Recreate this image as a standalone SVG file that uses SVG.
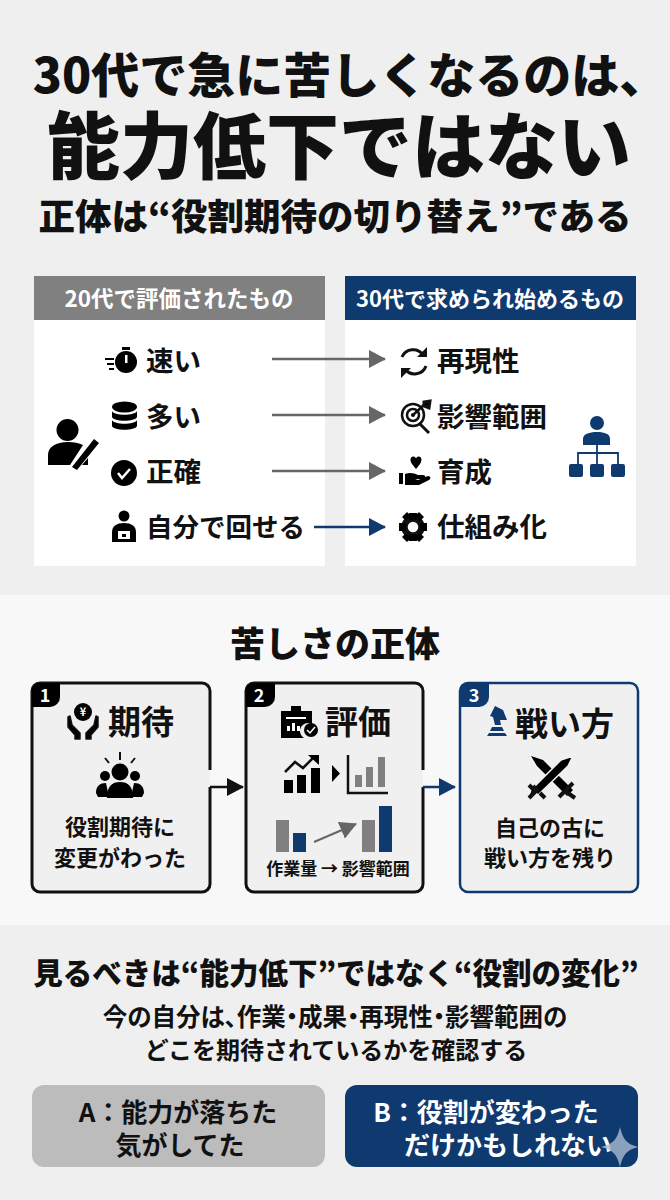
<svg xmlns="http://www.w3.org/2000/svg" width="670" height="1200" viewBox="0 0 670 1200">
<style>
text{font-family:"Noto Sans CJK JP","Noto Sans",sans-serif;font-weight:700;fill:#111;dominant-baseline:central}
.m{text-anchor:middle}
.w{fill:#fff}
.k{fill:#111}
.n{fill:#0f3a70}
.g{fill:#808080}
.box{fill:#f0f0f0;stroke:#111;stroke-width:3}
.it{font-size:27.500px}
.cap{font-size:22px}
.hd{font-size:33px}
.ln{fill:none;stroke-width:2.5}
.p{font-feature-settings:"palt"}
</style>
<defs>
<marker id="ag" markerUnits="userSpaceOnUse" markerWidth="17" markerHeight="18" refX="16" refY="9" orient="auto"><path d="M0 0L17 9L0 18z" fill="#666"/></marker>
<marker id="an" markerUnits="userSpaceOnUse" markerWidth="17" markerHeight="18" refX="16" refY="9" orient="auto"><path d="M0 0L17 9L0 18z" fill="#0f3a70"/></marker>
<marker id="ak" markerUnits="userSpaceOnUse" markerWidth="17" markerHeight="18" refX="16" refY="9" orient="auto"><path d="M0 0L17 9L0 18z" fill="#111"/></marker>
</defs>
<rect width="670" height="1200" fill="#efefef"/>
<rect y="595" width="670" height="330" fill="#f8f8f8"/>
<g id="title">
<text class="m" x="350" y="72" font-size="48" style="font-weight:900">30代で急に苦しくなるのは、</text>
<text class="m" x="339" y="141" font-size="73" style="font-weight:900">能力低下ではない</text>
<text class="m" x="335" y="214" font-size="36.500" style="font-weight:900">正体は“役割期待の切り替え”である</text>
</g>
<g id="panel-20s">
<rect x="34" y="276" width="291" height="290" fill="#fff"/>
<rect x="34" y="276" width="291" height="44" class="g"/>
<text class="m w" x="179" y="297" font-size="22.500">20代で評価されたもの</text>
<g id="i-person"><circle cx="67.500" cy="430" r="11"/><path d="M48 465V455C48 447 56 442 68 442C74 442 79 443 83 445L70 465zM82 465L88 458V465z"/><path d="M72 467L94 439L99 443L77 470z"/></g>
<g id="i-timer"><circle cx="126" cy="362" r="11"/><path d="M122 347H130V350H122zM105 358H114V360H105zM107 363H114V365H107zM109 368H114V370H109z"/><rect x="125" y="355" width="2.500" height="8" fill="#fff"/></g>
<text class="it" x="146" y="359">速い</text>
<g id="i-db"><ellipse cx="124.500" cy="407" rx="12.500" ry="5.500"/><path d="M112 411C114 416 135 416 137 411V417C135 422 114 422 112 417zM112 420C114 425 135 425 137 420V426C135 431 114 431 112 426z"/></g>
<text class="it" x="146" y="415">多い</text>
<g id="i-check"><circle cx="124" cy="473" r="13"/><path d="M118 473L122 478L130 469" fill="none" stroke="#fff" stroke-width="2.500"/></g>
<text class="it" x="146" y="470">正確</text>
<g id="i-laptop"><circle cx="124" cy="516" r="5.500"/><path d="M112 542V532C112 526 117 523 124 523C131 523 136 526 136 532V542z"/><rect x="118" y="531" width="12" height="8" fill="#fff"/><rect x="122" y="534" width="4" height="3"/></g>
<text x="146" y="525" font-size="26.500">自分で回せる</text>
</g>
<g id="panel-30s">
<rect x="345" y="276" width="291" height="290" fill="#fff"/>
<rect x="345" y="276" width="291" height="44" class="n"/>
<text class="m w" x="490" y="297" font-size="22">30代で求められ始めるもの</text>
<g id="i-cycle" fill="none" stroke="#111" stroke-width="3"><path d="M402 357A12 12 0 0 1 423 355"/><path d="M426 366A12 12 0 0 1 405 369"/><path d="M427 347V357H417zM401 378V368H411z" fill="#111" stroke="none"/></g>
<text class="it" x="437" y="359">再現性</text>
<g id="i-target"><circle cx="413" cy="415" r="11" fill="none" stroke="#111" stroke-width="2.500"/><circle cx="413" cy="415" r="6" fill="none" stroke="#111" stroke-width="2.500"/><circle cx="413" cy="415" r="2"/><path d="M413 415L427 402" stroke="#111" stroke-width="2.500"/><path d="M424 402L430 401L429 408L424 406zM419 423L429 433" stroke="#111" stroke-width="3"/></g>
<text class="it" x="437" y="415">影響範囲</text>
<g id="i-care"><path d="M412 464C408 458 413 454 416 458C419 454 424 458 420 464L416 469z"/><rect x="399" y="473" width="4" height="11"/><path d="M405 474C410 472 414 473 418 475H423C426 475 426 478 423 479H415L418 480L428 476C431 476 431 479 429 480L419 485H405z"/></g>
<text class="it" x="437" y="470">育成</text>
<g id="i-gear"><circle cx="413" cy="527" r="8.500" fill="none" stroke="#111" stroke-width="6.500"/><path d="M409 513H417V520H409zM409 534H417V541H409zM399 523H406V531H399zM420 523H427V531H420z"/><path d="M402 517L407 512L411 516L406 521zM424 517L419 512L415 516L420 521zM402 537L407 542L411 538L406 533zM424 537L419 542L415 538L420 533z"/></g>
<text class="it" x="437" y="525">仕組み化</text>
<g id="i-org" fill="#0f3a70"><circle cx="597" cy="423" r="7"/><path d="M583 445V439C583 434 589 432 597 432C605 432 610 434 610 439V445z"/><path d="M597 445V464M578 464V453H618V464" fill="none" stroke="#0f3a70" stroke-width="1.800"/><rect x="569" y="464" width="14" height="13" rx="2"/><rect x="590" y="464" width="14" height="13" rx="2"/><rect x="611" y="464" width="14" height="13" rx="2"/></g>
</g>
<g id="s2-title"><text class="m" x="335" y="641" font-size="35" style="font-weight:900">苦しさの正体</text></g>
<g id="card1">
<path class="box" d="M210 770V691A8 8 0 0 0 202 683H40A8 8 0 0 0 32 691V884A8 8 0 0 0 40 892H202A8 8 0 0 0 210 884V787"/>
<path d="M32 707V691A8 8 0 0 1 40 683H60V697A10 10 0 0 1 50 707z"/>
<text class="m w" x="45" y="694" font-size="18">1</text>
<g id="i-yen"><circle cx="83" cy="712" r="9"/><text class="m w" x="83" y="711" font-size="11">¥</text><path d="M68 717L70 716L72 725L80 733V739H75V735L68 727zM98 717L96 716L94 725L86 733V739H91V735L98 727z" stroke="#111" stroke-width="1.500" stroke-linejoin="round"/></g>
<text class="hd" x="108" y="720">期待</text>
<g id="i-people"><circle cx="120" cy="772" r="8.500"/><circle cx="105" cy="776" r="5"/><circle cx="135" cy="776" r="5"/><path d="M96 793C96 786 100 783 106 783L109 797H98zM144 793C144 786 140 783 134 783L131 797H142z"/><path d="M107 798C107 786 112 782 120 782C128 782 133 786 133 798z"/><path d="M120 752V760M105 758L109 763M135 758L131 763" stroke="#111" stroke-width="2"/></g>
<text class="m cap" x="120" y="825">役割期待に</text>
<text class="m cap" x="120" y="856">変更がわった</text>
</g>
<g id="card2">
<path class="box" d="M423 770V691A8 8 0 0 0 415 683H254A8 8 0 0 0 246 691V884A8 8 0 0 0 254 892H415A8 8 0 0 0 423 884V787"/>
<path d="M246 707V691A8 8 0 0 1 254 683H275V697A10 10 0 0 1 265 707z"/>
<text class="m w" x="259" y="694" font-size="18">2</text>
<g id="i-clip"><path d="M281 711H291V706H301V711H312V724A8 8 0 0 0 304 738H281z"/><rect x="286" y="717" width="20" height="2" fill="#fff"/><path d="M287 731V726H290V731zM292 731V723H295V731zM297 731V726H300V731z" fill="#fff"/><circle cx="311" cy="730" r="7"/><path d="M307 730L310 733L315 727" fill="none" stroke="#fff" stroke-width="1.500"/></g>
<text class="hd" x="325" y="720">評価</text>
<g id="i-chart"><rect x="284" y="780" width="9" height="13"/><rect x="297" y="775" width="9" height="18"/><rect x="311" y="768" width="9" height="25"/><path d="M285 772L295 762L303 768L314 757" fill="none" stroke="#111" stroke-width="2.500"/><path d="M308 755H319V765z"/><path d="M332 765L340 773.500L332 782z"/><path d="M348 755V793H388" fill="none" stroke="#111" stroke-width="2.500"/><rect x="355" y="775" width="7" height="12" class="g"/><rect x="366" y="767" width="7" height="20" class="g"/><rect x="378" y="757" width="7" height="30" class="g"/></g>
<g id="i-bars"><rect x="276" y="820" width="13" height="32" class="g"/><rect x="293" y="833" width="13" height="19" class="n"/><rect x="362" y="820" width="13" height="32" class="g"/><rect x="379" y="806" width="13" height="46" class="n"/></g>
<text class="m" x="338" y="867" font-size="17">作業量 → 影響範囲</text>
</g>
<g id="card3">
<path class="box" style="stroke:#0f3a70;stroke-width:2.500" d="M468 683H630A8 8 0 0 1 638 691V884A8 8 0 0 1 630 892H468A8 8 0 0 1 460 884V691A8 8 0 0 1 468 683z"/>
<path class="n" d="M460 707V691A8 8 0 0 1 468 683H489V697A10 10 0 0 1 479 707z"/>
<text class="m w" x="474" y="694" font-size="18">3</text>
<path id="i-knight" class="n" d="M495 706L503 710L507 720H500L501 725H495L493 717L490 716zM492 727H502L504 731H490zM489 733H505L507 736H487z"/>
<text class="hd" x="515" y="722">戦い方</text>
<g id="i-swords"><path d="M531 756L543 760L573 790L567 796L537 766z"/><path d="M573 756L561 760L532 789L538 795L568 766z" stroke="#f0f0f0" stroke-width="1.500"/><path d="M559 797L573 783M529 798L537 790L533 786M540 793L545 798M529 785L535 791M565 791L575 798" stroke="#111" stroke-width="4"/></g>
<text class="m cap" x="550" y="826">自己の古に</text>
<text class="m cap" x="550" y="856">戦い方を残り</text>
</g>
<g id="connectors">
<path class="ln" stroke="#666" marker-end="url(#ag)" d="M272 359H385"/>
<path class="ln" stroke="#666" marker-end="url(#ag)" d="M272 415H385"/>
<path class="ln" stroke="#666" marker-end="url(#ag)" d="M272 471H385"/>
<path class="ln" stroke="#0f3a70" marker-end="url(#an)" d="M314 527H385"/>
<path class="ln" stroke="#111" stroke-width="3" marker-end="url(#ak)" d="M210 787H243"/>
<path class="ln" stroke="#0f3a70" stroke-width="3" marker-end="url(#an)" d="M423 787H455"/>
<path class="ln" stroke="#666" marker-end="url(#ag)" d="M314 842L356 824" style="stroke-width:2"/>
</g>
<g id="summary">
<text class="m" x="336" y="971" font-size="29.500" style="font-weight:900">見るべきは“能力低下”ではなく“役割の変化”</text>
<text class="m p" x="335" y="1015" font-size="24.500">今の自分は、作業・成果・再現性・影響範囲の</text>
<text class="m" x="336" y="1048" font-size="24">どこを期待されているかを確認する</text>
</g>
<g id="option-a">
<rect x="32" y="1085" width="293" height="82" rx="12" fill="#bcbcbc"/>
<text class="m" x="178" y="1110" font-size="26">A：能力が落ちた</text>
<text class="m" x="180" y="1143" font-size="26">気がしてた</text>
</g>
<g id="option-b">
<rect x="345" y="1085" width="293" height="82" rx="12" class="n"/>
<text class="m w" x="486" y="1110" font-size="26">B：役割が変わった</text>
<text class="m w" x="508" y="1143" font-size="26">だけかもしれない</text>
<path d="M620 1127C623 1140 627 1144 638 1147C627 1150 623 1154 620 1167C617 1154 613 1150 601 1147C613 1144 617 1140 620 1127z" fill="#a9bbd2" fill-opacity=".8"/>
</g>
</svg>
